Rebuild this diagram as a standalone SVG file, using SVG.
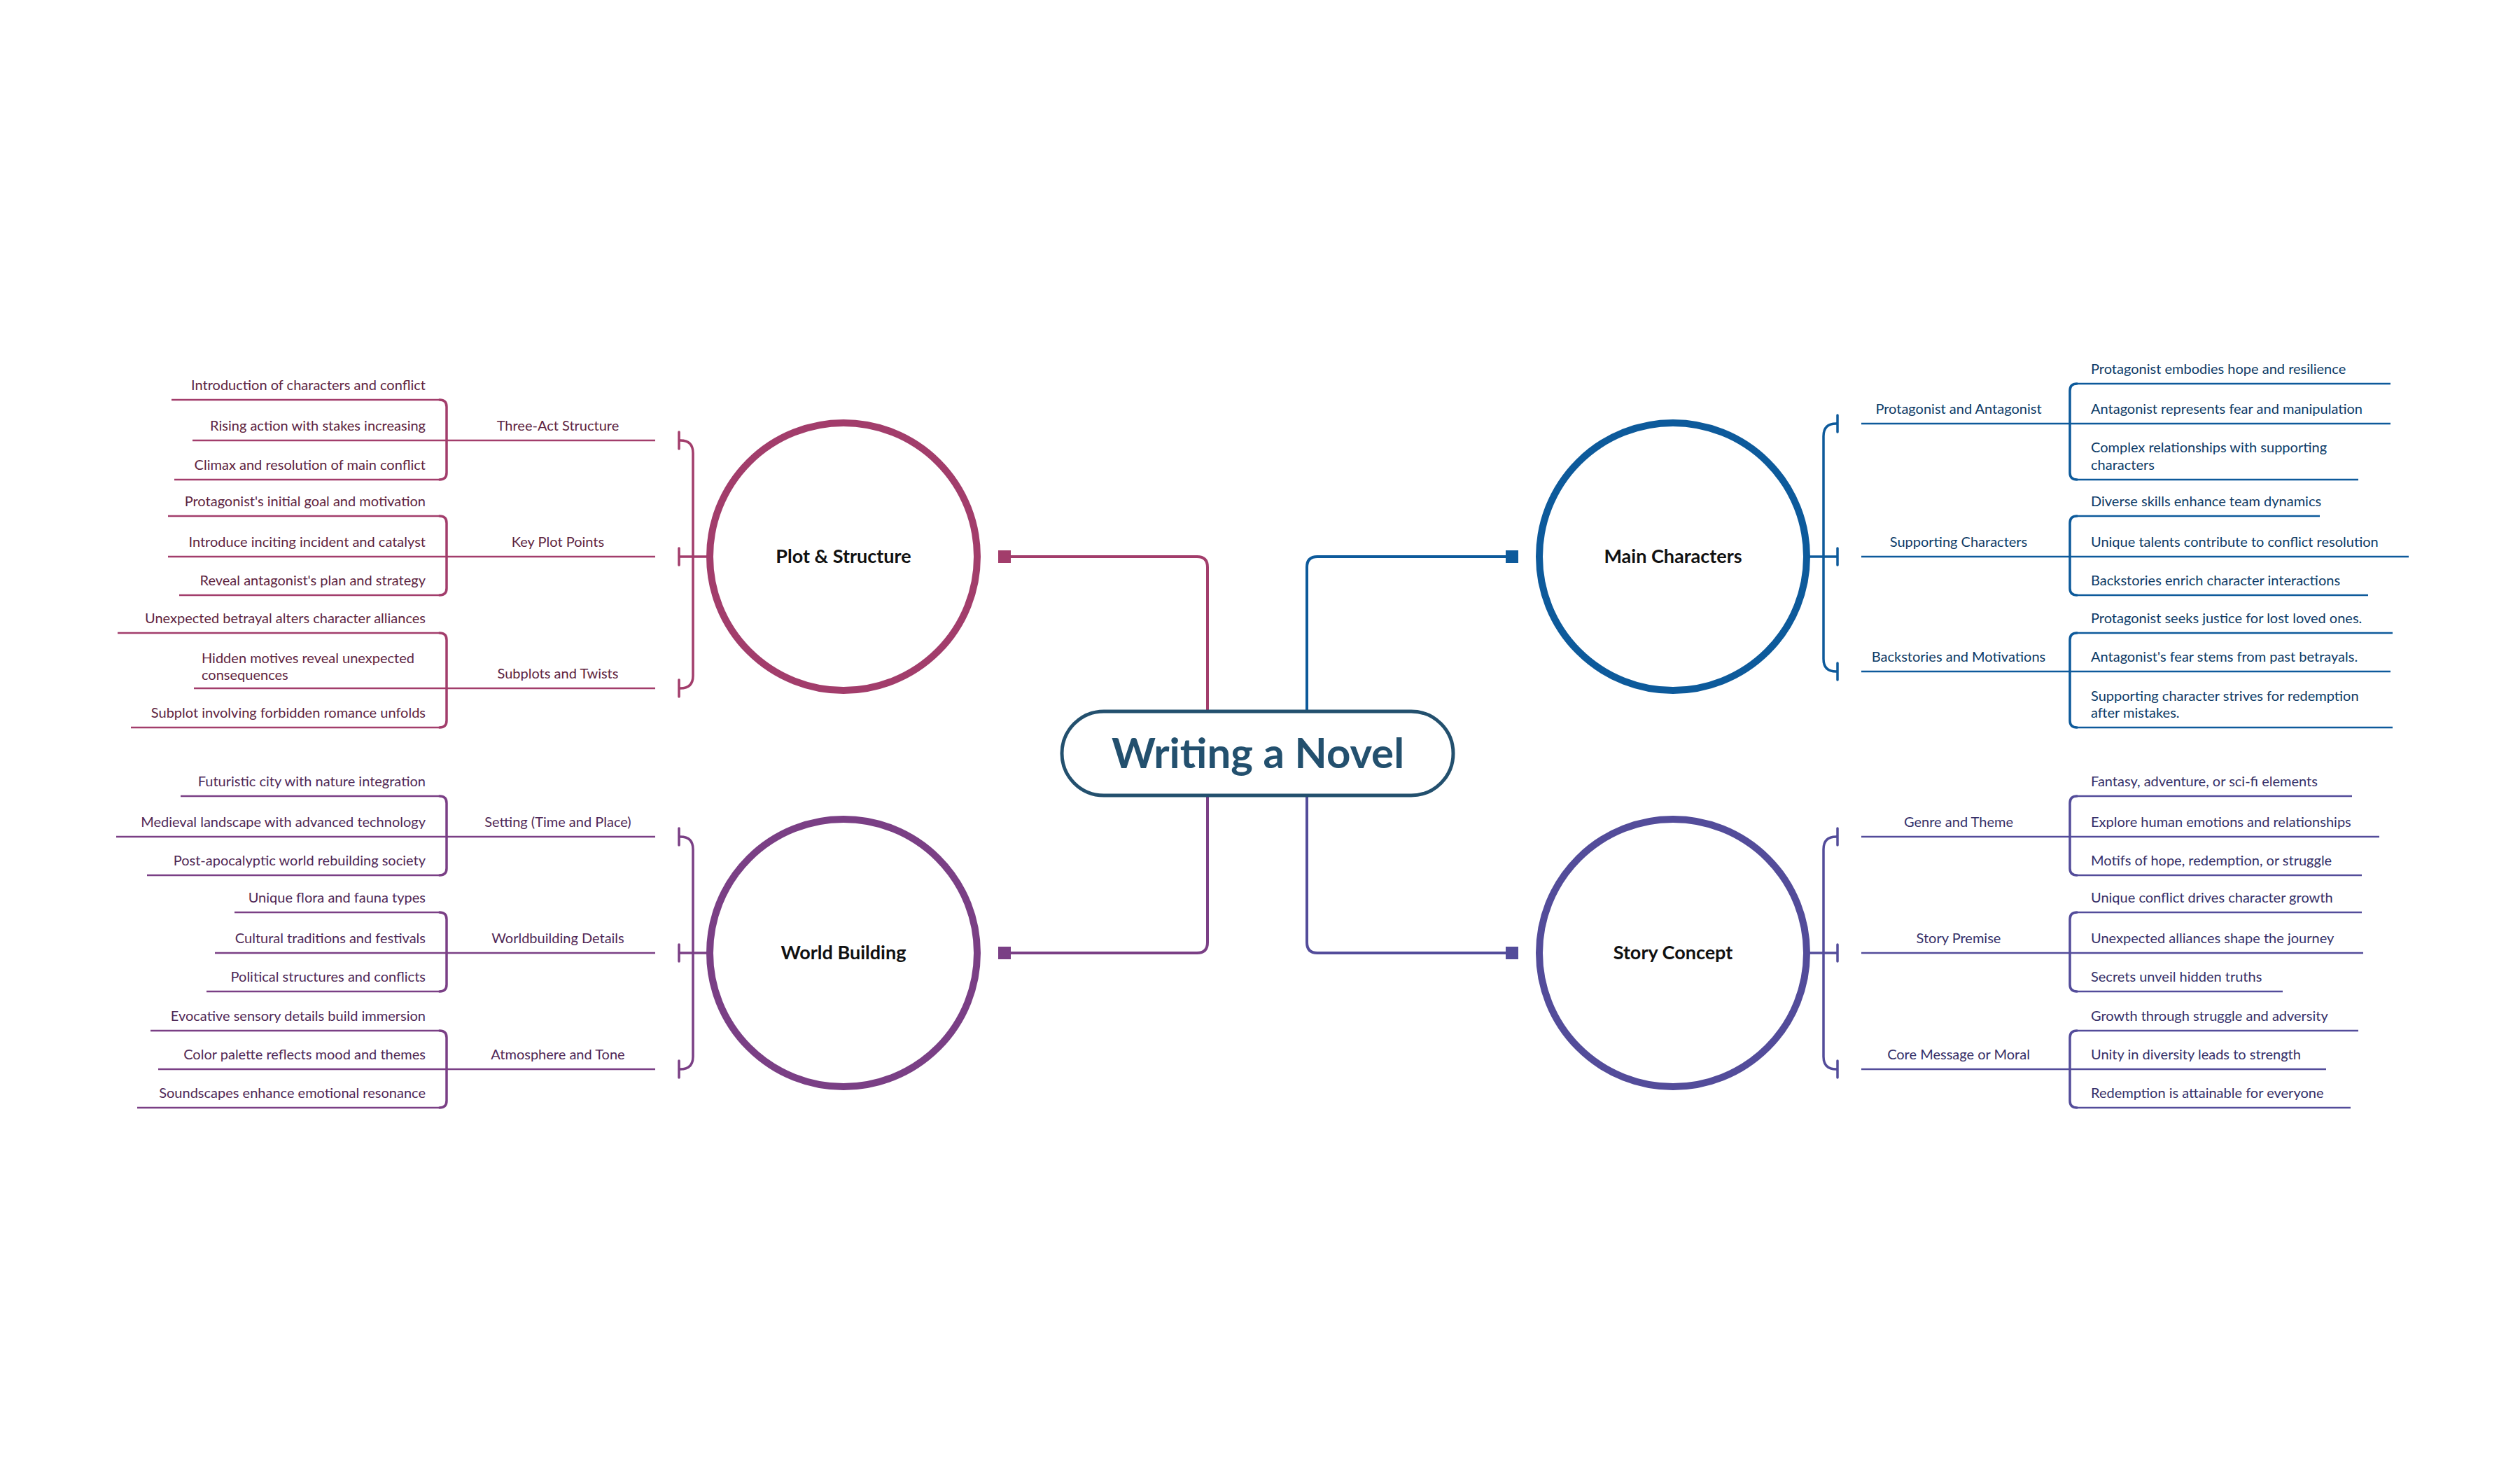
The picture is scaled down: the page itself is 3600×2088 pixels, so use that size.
<svg xmlns="http://www.w3.org/2000/svg" width="3600" height="2088" viewBox="0 0 3600 2088">
<style>
text{font-family:Lato,"Liberation Sans",sans-serif;stroke:none}
.leaf{font-size:20px}
.br{font-size:20px}
.lt{font-size:20px;text-anchor:end}
.mid{text-anchor:middle}
.main{font-size:27px;font-weight:bold;fill:#111;text-anchor:middle}
.ln{fill:none;stroke-width:2.5}
.bk{fill:none;stroke-width:3.5;stroke-linecap:round}
.pl{stroke:#A23D6B;fill:#5e2440}
.wb{stroke:#7A3F85;fill:#4f2856}
.mc{stroke:#0D5A9B;fill:#0c3a66}
.sc{stroke:#534C9A;fill:#352f68}
</style>
<rect width="3600" height="2088" fill="#fff"/>
<g id="connectors" fill="none" stroke-width="4">
<path d="M1435 795 H1710 Q1725 795 1725 810 V1015" stroke="#A23D6B"/>
<path d="M1435 1361 H1710 Q1725 1361 1725 1346 V1136" stroke="#7A3F85"/>
<path d="M2160 795 H1882 Q1867 795 1867 810 V1015" stroke="#0D5A9B"/>
<path d="M2160 1361 H1882 Q1867 1361 1867 1346 V1136" stroke="#534C9A"/>
<rect x="1426" y="786" width="18" height="18" fill="#A23D6B" stroke="none"/>
<rect x="1426" y="1352" width="18" height="18" fill="#7A3F85" stroke="none"/>
<rect x="2151" y="786" width="18" height="18" fill="#0D5A9B" stroke="none"/>
<rect x="2151" y="1352" width="18" height="18" fill="#534C9A" stroke="none"/>
</g>
<g id="center">
<rect x="1517" y="1016" width="559" height="120" rx="60" fill="#fff" stroke="#23506E" stroke-width="5"/>
<text x="1797" y="1097" font-size="60" font-weight="bold" fill="#23506E" text-anchor="middle">Writing a Novel</text>
</g>

<g id="plot">
<circle cx="1205" cy="795" r="191" fill="#fff" stroke="#A23D6B" stroke-width="10"/>
<text class="main" x="1205" y="804">Plot &amp; Structure</text>
<g class="pl">
<path class="bk" d="M972 629 Q990 629 990 647 V965 Q990 983 972 983 M970 617 V641 M970 783 V807 M970 971 V995 M970 795 H1012"/>
<path class="ln" d="M638 629 H936 M638 795 H936 M638 983 H936"/>
<text class="br mid" x="797" y="615">Three-Act Structure</text>
<text class="br mid" x="797" y="781">Key Plot Points</text>
<text class="br mid" x="797" y="969">Subplots and Twists</text>
<path class="bk" d="M628 571 Q638 571 638 581 V675 Q638 685 628 685 M628 737 Q638 737 638 747 V840 Q638 850 628 850 M628 904 Q638 904 638 914 V1029 Q638 1039 628 1039"/>
<path class="ln" d="M245 571 H628 M275 629 H638 M249 685 H628 M240 737 H628 M240 795 H638 M256 850 H628 M168 904 H628 M277 983 H638 M187 1039 H628"/>
<text class="lt" x="608" y="557">Introduction of characters and conflict</text>
<text class="lt" x="608" y="615">Rising action with stakes increasing</text>
<text class="lt" x="608" y="671">Climax and resolution of main conflict</text>
<text class="lt" x="608" y="723">Protagonist's initial goal and motivation</text>
<text class="lt" x="608" y="781">Introduce inciting incident and catalyst</text>
<text class="lt" x="608" y="836">Reveal antagonist's plan and strategy</text>
<text class="lt" x="608" y="890">Unexpected betrayal alters character alliances</text>
<text class="leaf" x="288" y="947">Hidden motives reveal unexpected</text>
<text class="leaf" x="288" y="971">consequences</text>
<text class="lt" x="608" y="1025">Subplot involving forbidden romance unfolds</text>
</g>
</g>

<g id="world">
<circle cx="1205" cy="1361" r="191" fill="#fff" stroke="#7A3F85" stroke-width="10"/>
<text class="main" x="1205" y="1370">World Building</text>
<g class="wb">
<path class="bk" d="M972 1195 Q990 1195 990 1213 V1509 Q990 1527 972 1527 M970 1183 V1207 M970 1349 V1373 M970 1515 V1539 M970 1361 H1012"/>
<path class="ln" d="M638 1195 H936 M638 1361 H936 M638 1527 H936"/>
<text class="br mid" x="797" y="1181">Setting (Time and Place)</text>
<text class="br mid" x="797" y="1347">Worldbuilding Details</text>
<text class="br mid" x="797" y="1513">Atmosphere and Tone</text>
<path class="bk" d="M628 1137 Q638 1137 638 1147 V1240 Q638 1250 628 1250 M628 1303 Q638 1303 638 1313 V1406 Q638 1416 628 1416 M628 1472 Q638 1472 638 1482 V1572 Q638 1582 628 1582"/>
<path class="ln" d="M258 1137 H628 M166 1195 H638 M210 1250 H628 M335 1303 H628 M307 1361 H638 M295 1416 H628 M215 1472 H628 M226 1527 H638 M196 1582 H628"/>
<text class="lt" x="608" y="1123">Futuristic city with nature integration</text>
<text class="lt" x="608" y="1181">Medieval landscape with advanced technology</text>
<text class="lt" x="608" y="1236">Post-apocalyptic world rebuilding society</text>
<text class="lt" x="608" y="1289">Unique flora and fauna types</text>
<text class="lt" x="608" y="1347">Cultural traditions and festivals</text>
<text class="lt" x="608" y="1402">Political structures and conflicts</text>
<text class="lt" x="608" y="1458">Evocative sensory details build immersion</text>
<text class="lt" x="608" y="1513">Color palette reflects mood and themes</text>
<text class="lt" x="608" y="1568">Soundscapes enhance emotional resonance</text>
</g>
</g>

<g id="characters">
<circle cx="2390" cy="795" r="191" fill="#fff" stroke="#0D5A9B" stroke-width="10"/>
<text class="main" x="2390" y="804">Main Characters</text>
<g class="mc">
<path class="bk" d="M2623 605 Q2605 605 2605 623 V941 Q2605 959 2623 959 M2625 593 V617 M2625 783 V807 M2625 947 V971 M2583 795 H2625"/>
<path class="ln" d="M2659 605 H2957 M2659 795 H2957 M2659 959 H2957"/>
<text class="br mid" x="2798" y="591">Protagonist and Antagonist</text>
<text class="br mid" x="2798" y="781">Supporting Characters</text>
<text class="br mid" x="2798" y="945">Backstories and Motivations</text>
<path class="bk" d="M2967 548 Q2957 548 2957 558 V675 Q2957 685 2967 685 M2967 737 Q2957 737 2957 747 V840 Q2957 850 2967 850 M2967 904 Q2957 904 2957 914 V1029 Q2957 1039 2967 1039"/>
<path class="ln" d="M2967 548 H3415 M2957 605 H3415 M2967 685 H3369 M2967 737 H3314 M2957 795 H3441 M2967 850 H3383 M2967 904 H3418 M2957 959 H3415 M2967 1039 H3418"/>
<text class="leaf" x="2987" y="534">Protagonist embodies hope and resilience</text>
<text class="leaf" x="2987" y="591">Antagonist represents fear and manipulation</text>
<text class="leaf" x="2987" y="646">Complex relationships with supporting</text>
<text class="leaf" x="2987" y="671">characters</text>
<text class="leaf" x="2987" y="723">Diverse skills enhance team dynamics</text>
<text class="leaf" x="2987" y="781">Unique talents contribute to conflict resolution</text>
<text class="leaf" x="2987" y="836">Backstories enrich character interactions</text>
<text class="leaf" x="2987" y="890">Protagonist seeks justice for lost loved ones.</text>
<text class="leaf" x="2987" y="945">Antagonist's fear stems from past betrayals.</text>
<text class="leaf" x="2987" y="1001">Supporting character strives for redemption</text>
<text class="leaf" x="2987" y="1025">after mistakes.</text>
</g>
</g>

<g id="story">
<circle cx="2390" cy="1361" r="191" fill="#fff" stroke="#534C9A" stroke-width="10"/>
<text class="main" x="2390" y="1370">Story Concept</text>
<g class="sc">
<path class="bk" d="M2623 1195 Q2605 1195 2605 1213 V1509 Q2605 1527 2623 1527 M2625 1183 V1207 M2625 1349 V1373 M2625 1515 V1539 M2583 1361 H2625"/>
<path class="ln" d="M2659 1195 H2957 M2659 1361 H2957 M2659 1527 H2957"/>
<text class="br mid" x="2798" y="1181">Genre and Theme</text>
<text class="br mid" x="2798" y="1347">Story Premise</text>
<text class="br mid" x="2798" y="1513">Core Message or Moral</text>
<path class="bk" d="M2967 1137 Q2957 1137 2957 1147 V1240 Q2957 1250 2967 1250 M2967 1303 Q2957 1303 2957 1313 V1406 Q2957 1416 2967 1416 M2967 1472 Q2957 1472 2957 1482 V1572 Q2957 1582 2967 1582"/>
<path class="ln" d="M2967 1137 H3360 M2957 1195 H3399 M2967 1250 H3374 M2967 1303 H3374 M2957 1361 H3376 M2967 1416 H3261 M2967 1472 H3369 M2957 1527 H3323 M2967 1582 H3358"/>
<text class="leaf" x="2987" y="1123">Fantasy, adventure, or sci-fi elements</text>
<text class="leaf" x="2987" y="1181">Explore human emotions and relationships</text>
<text class="leaf" x="2987" y="1236">Motifs of hope, redemption, or struggle</text>
<text class="leaf" x="2987" y="1289">Unique conflict drives character growth</text>
<text class="leaf" x="2987" y="1347">Unexpected alliances shape the journey</text>
<text class="leaf" x="2987" y="1402">Secrets unveil hidden truths</text>
<text class="leaf" x="2987" y="1458">Growth through struggle and adversity</text>
<text class="leaf" x="2987" y="1513">Unity in diversity leads to strength</text>
<text class="leaf" x="2987" y="1568">Redemption is attainable for everyone</text>
</g>
</g>
</svg>
